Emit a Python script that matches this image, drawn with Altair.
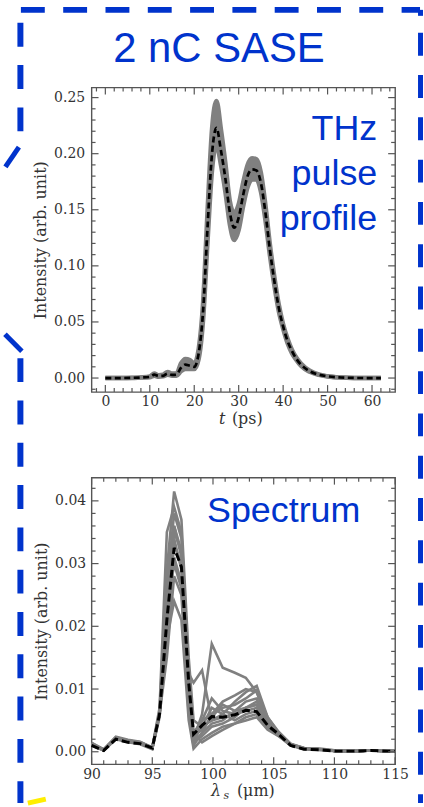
import altair as alt
import pandas as pd

BLUE = "#0033cc"
GRAY = "#808080"
AXC = "#555555"
TXT = "#333333"
SERIF = "DejaVu Serif"
SANS = "Liberation Sans"

# ---------------- top panel: THz pulse profile ----------------
t_ps = [0, 2, 4, 6, 8, 10, 11, 12, 13, 14, 15, 16, 17, 18, 19, 20, 21, 22, 23, 24,
        25, 26, 27, 28, 29, 30, 31, 32, 33, 34, 35, 36, 37, 38, 39, 40, 41, 42, 43, 44,
        46, 48, 50, 53, 56, 59, 62]
mean_top = [0, 0, 0, 0.0002, 0.0005, 0.001, 0.003, 0.0018, 0.002, 0.004, 0.0028, 0.003,
            0.009, 0.012, 0.011, 0.010, 0.022, 0.06, 0.135, 0.2, 0.223, 0.203, 0.178,
            0.148, 0.134, 0.143, 0.163, 0.18, 0.186, 0.185, 0.174, 0.148, 0.115, 0.087,
            0.063, 0.046, 0.033, 0.024, 0.017, 0.012, 0.006, 0.003, 0.0015, 0.0005,
            0.0001, 0, 0]
hi_top = [0, 0, 0, 0.0002, 0.0006, 0.0015, 0.004, 0.0025, 0.003, 0.0055, 0.004, 0.004,
          0.013, 0.017, 0.016, 0.013, 0.026, 0.068, 0.15, 0.222, 0.247, 0.222, 0.192,
          0.158, 0.147, 0.155, 0.174, 0.19, 0.196, 0.195, 0.183, 0.155, 0.12, 0.091,
          0.066, 0.048, 0.035, 0.025, 0.018, 0.013, 0.0065, 0.0032, 0.0016, 0.0005,
          0.0001, 0, 0]
lo_top = [0, 0, 0, 0.0001, 0.0004, 0.0007, 0.002, 0.0012, 0.0015, 0.003, 0.002, 0.002,
          0.006, 0.008, 0.008, 0.008, 0.017, 0.052, 0.122, 0.185, 0.208, 0.19, 0.166,
          0.137, 0.123, 0.132, 0.153, 0.17, 0.177, 0.177, 0.166, 0.141, 0.11, 0.083,
          0.06, 0.044, 0.031, 0.022, 0.016, 0.011, 0.0055, 0.0028, 0.0014, 0.0005,
          0.0001, 0, 0]

# ---------------- bottom panel: spectrum ----------------
lam_um = [90, 91, 92, 93, 94, 95, 95.6, 96.2, 96.8, 97.4, 98.0, 98.4, 99.1, 99.9,
          100.8, 101.8, 102.7, 103.6, 104.5, 105.4, 106.4, 107.5, 108.8, 110.2, 111.6,
          113.0, 114.4, 115]
spec_mean = [0.0010, 0.0002, 0.0020, 0.0015, 0.0013, 0.0006, 0.006, 0.021, 0.0325, 0.0295,
             0.011, 0.0028, 0.0042, 0.0056, 0.0055, 0.0059, 0.0066, 0.0064, 0.0042, 0.0028,
             0.0010, 0.0004, 0.0003, 0.0001, 0.0001, 0.0002, 0.0001, 0.0001]
shot_01 = [0.0013, 0.0003, 0.0023, 0.0018, 0.0015, 0.0006, 0.0065, 0.029, 0.0415, 0.037, 0.015, 0.005, 0.004, 0.005, 0.0055, 0.006, 0.007, 0.0075, 0.0045, 0.0028, 0.0011, 0.0005, 0.0004, 0.0001, 0.0001, 0.0002, 0.0001, 0.0001]
shot_02 = [0.0011, 0.0002, 0.0021, 0.0016, 0.0013, 0.0005, 0.006, 0.025, 0.036, 0.032, 0.010, 0.002, 0.006, 0.0172, 0.0134, 0.0126, 0.0118, 0.0095, 0.0055, 0.0032, 0.0013, 0.0006, 0.0004, 0.0002, 0.0001, 0.0002, 0.0001, 0.0001]
shot_03 = [0.0014, 0.0004, 0.0024, 0.0019, 0.0016, 0.0007, 0.007, 0.035, 0.039, 0.035, 0.0125, 0.011, 0.013, 0.005, 0.006, 0.008, 0.0095, 0.0105, 0.0055, 0.003, 0.0012, 0.0006, 0.0005, 0.0002, 0.0001, 0.0002, 0.0002, 0.0001]
shot_04 = [0.0012, 0.0003, 0.0022, 0.0017, 0.0014, 0.0006, 0.006, 0.022, 0.030, 0.026, 0.008, 0.001, 0.003, 0.006, 0.007, 0.0075, 0.0085, 0.0098, 0.005, 0.0028, 0.0011, 0.0005, 0.0004, 0.0001, 0.0001, 0.0002, 0.0001, 0.0001]
shot_05 = [0.0010, 0.0002, 0.0020, 0.0015, 0.0012, 0.0004, 0.0055, 0.018, 0.024, 0.021, 0.005, 0.0005, 0.002, 0.003, 0.004, 0.0045, 0.005, 0.0055, 0.0035, 0.0025, 0.0010, 0.0004, 0.0003, 0.0001, 0.0001, 0.0002, 0.0001, 0.0001]
shot_06 = [0.0013, 0.0003, 0.0022, 0.0017, 0.0014, 0.0006, 0.006, 0.020, 0.033, 0.030, 0.010, 0.002, 0.004, 0.007, 0.006, 0.005, 0.006, 0.0065, 0.004, 0.0028, 0.0011, 0.0005, 0.0004, 0.0001, 0.0001, 0.0002, 0.0001, 0.0001]
shot_07 = [0.0012, 0.0003, 0.0021, 0.0017, 0.0014, 0.0006, 0.006, 0.024, 0.035, 0.032, 0.009, 0.0015, 0.003, 0.0045, 0.005, 0.0065, 0.008, 0.0085, 0.0045, 0.003, 0.0012, 0.0005, 0.0004, 0.0001, 0.0001, 0.0002, 0.0001, 0.0001]
shot_08 = [0.0011, 0.0002, 0.0022, 0.0016, 0.0013, 0.0005, 0.006, 0.015, 0.028, 0.025, 0.006, 0.001, 0.005, 0.0085, 0.0065, 0.006, 0.0065, 0.007, 0.004, 0.0026, 0.0010, 0.0005, 0.0003, 0.0001, 0.0001, 0.0002, 0.0001, 0.0001]
shot_09 = [0.0014, 0.0003, 0.0023, 0.0018, 0.0015, 0.0007, 0.006, 0.021, 0.036, 0.031, 0.009, 0.003, 0.0015, 0.0025, 0.0035, 0.0045, 0.0055, 0.006, 0.004, 0.0025, 0.0011, 0.0005, 0.0004, 0.0001, 0.0001, 0.0002, 0.0001, 0.0001]
shot_10 = [0.0012, 0.0003, 0.0022, 0.0017, 0.0014, 0.0006, 0.006, 0.019, 0.031, 0.027, 0.007, 0.0025, 0.0035, 0.0055, 0.0075, 0.0065, 0.007, 0.0075, 0.0045, 0.0028, 0.0011, 0.0005, 0.0004, 0.0001, 0.0001, 0.0002, 0.0001, 0.0001]
shot_11 = [0.0013, 0.0003, 0.0021, 0.0016, 0.0014, 0.0006, 0.006, 0.023, 0.034, 0.029, 0.008, 0.0015, 0.0025, 0.004, 0.0045, 0.0055, 0.007, 0.008, 0.005, 0.003, 0.0012, 0.0006, 0.0004, 0.0001, 0.0001, 0.0002, 0.0001, 0.0001]
shot_12 = [0.0012, 0.0003, 0.0022, 0.0017, 0.0015, 0.0006, 0.0065, 0.026, 0.038, 0.034, 0.013, 0.003, 0.005, 0.006, 0.008, 0.009, 0.010, 0.0095, 0.005, 0.003, 0.0012, 0.0005, 0.0004, 0.0001, 0.0001, 0.0002, 0.0001, 0.0001]
shots = [shot_01, shot_02, shot_03, shot_04, shot_05, shot_06,
         shot_07, shot_08, shot_09, shot_10, shot_11, shot_12]

# ---------------- tick values ----------------
top_x_major = [0, 10, 20, 30, 40, 50, 60]
top_x_minor = [-2, 2, 4, 6, 8, 12, 14, 16, 18, 22, 24, 26, 28, 32, 34, 36, 38,
               42, 44, 46, 48, 52, 54, 56, 58, 62, 64]
top_y_major = [0.0, 0.05, 0.10, 0.15, 0.20, 0.25]
top_y_minor = [-0.01, 0.01, 0.02, 0.03, 0.04, 0.06, 0.07, 0.08, 0.09, 0.11, 0.12,
               0.13, 0.14, 0.16, 0.17, 0.18, 0.19, 0.21, 0.22, 0.23, 0.24]
bot_x_major = [90, 95, 100, 105, 110, 115]
bot_x_minor = [91, 92, 93, 94, 96, 97, 98, 99, 101, 102, 103, 104, 106, 107, 108,
               109, 111, 112, 113, 114]
bot_y_major = [0.0, 0.01, 0.02, 0.03, 0.04]
bot_y_minor = [0.002, 0.004, 0.006, 0.008, 0.012, 0.014, 0.016, 0.018, 0.022, 0.024,
               0.026, 0.028, 0.032, 0.034, 0.036, 0.038, 0.042]

W = 305
H_TOP = 306
H_BOT = 288

one = pd.DataFrame({"a": [0]})


def axis_x(values, fmt):
    return alt.Axis(values=values, format=fmt, title=None, ticks=False, tickSize=0,
                    domain=False, grid=False, labelFont=SERIF, labelFontSize=14,
                    labelColor=TXT, labelPadding=3, labelFlush=False)


def axis_y(values, fmt, pad):
    return alt.Axis(values=values, format=fmt, title="Intensity (arb. unit)",
                    ticks=False, tickSize=0, domain=False, grid=False,
                    labelFont=SERIF, labelFontSize=14, labelColor=TXT,
                    labelPadding=pad, titleFont=SERIF, titleFontSize=16,
                    titleFontWeight="normal", titleColor=TXT, titlePadding=5)


def tick_layers(xmaj, xmin, ymaj, ymin, X, Y, h):
    layers = []
    for vals, ln in ((xmaj, 7), (xmin, 4)):
        d = pd.DataFrame({"v": vals})
        layers.append(alt.Chart(d).mark_rule(color=AXC, strokeWidth=1.2).encode(
            x=X("v"), y=alt.value(h), y2=alt.value(h - ln)))
        layers.append(alt.Chart(d).mark_rule(color=AXC, strokeWidth=1.2).encode(
            x=X("v"), y=alt.value(0), y2=alt.value(ln)))
    for vals, ln in ((ymaj, 7), (ymin, 4)):
        d = pd.DataFrame({"v": vals})
        layers.append(alt.Chart(d).mark_rule(color=AXC, strokeWidth=1.2).encode(
            y=Y("v"), x=alt.value(0), x2=alt.value(ln)))
        layers.append(alt.Chart(d).mark_rule(color=AXC, strokeWidth=1.2).encode(
            y=Y("v"), x=alt.value(W), x2=alt.value(W - ln)))
    return layers


# ---------- top panel ----------
xs_top = alt.Scale(domain=[-3.1, 65.2], nice=False, zero=False)
ys_top = alt.Scale(domain=[-0.0125, 0.259], nice=False, zero=False)
ax_tx = axis_x(top_x_major, "d")
ax_ty = axis_y(top_y_major, ".2f", 7)


def XT(f):
    return alt.X(f, type="quantitative", scale=xs_top, axis=ax_tx)


def YT(f):
    return alt.Y(f, type="quantitative", scale=ys_top, axis=ax_ty)


df_top = pd.DataFrame({"t": t_ps, "mean": mean_top, "hi": hi_top, "lo": lo_top})

band = alt.Chart(df_top).mark_area(color=GRAY, interpolate="monotone").encode(
    x=XT("t"), y=YT("lo"), y2="hi")
hi_line = alt.Chart(df_top).mark_line(color=GRAY, strokeWidth=4.5, interpolate="monotone").encode(
    x=XT("t"), y=YT("hi"))
lo_line = alt.Chart(df_top).mark_line(color=GRAY, strokeWidth=4.5, interpolate="monotone").encode(
    x=XT("t"), y=YT("lo"))
mean_line = alt.Chart(df_top).mark_line(color="black", strokeWidth=2.7, strokeDash=[6, 3.5],
                                        interpolate="monotone").encode(x=XT("t"), y=YT("mean"))

# decorations (pixel coordinates relative to the top plot area; origin at page (91, 85))
frame = alt.Chart(one).mark_rect(opacity=0).encode(
    x=alt.value(-91), x2=alt.value(333), y=alt.value(-85), y2=alt.value(722))
bdash = dict(color=BLUE, strokeDash=[24, 18.5])
b_top = alt.Chart(one).mark_rule(strokeWidth=6, **bdash).encode(
    x=alt.value(-71), x2=alt.value(330), y=alt.value(-78))
b_left1 = alt.Chart(one).mark_rule(strokeWidth=6, **bdash).encode(
    x=alt.value(-71.5), y=alt.value(-65), y2=alt.value(45))
b_diag1 = alt.Chart(one).mark_rule(strokeWidth=5, **bdash).encode(
    x=alt.value(-73), x2=alt.value(-88), y=alt.value(60), y2=alt.value(82))
b_diag2 = alt.Chart(one).mark_rule(strokeWidth=5, **bdash).encode(
    x=alt.value(-87), x2=alt.value(-70), y=alt.value(248), y2=alt.value(265))
b_left2 = alt.Chart(one).mark_rule(strokeWidth=6, **bdash).encode(
    x=alt.value(-71.5), y=alt.value(272), y2=alt.value(719))
b_right = alt.Chart(one).mark_rule(strokeWidth=5, color=BLUE, strokeDash=[23, 19.5]).encode(
    x=alt.value(330.5), y=alt.value(-55), y2=alt.value(719))
b_corner = alt.Chart(one).mark_rule(strokeWidth=5, color=BLUE).encode(
    x=alt.value(330.5), y=alt.value(-78), y2=alt.value(-72))
yellow = alt.Chart(one).mark_rule(strokeWidth=5, color="#ffee00").encode(
    x=alt.value(-64), x2=alt.value(-46), y=alt.value(719), y2=alt.value(715))

title_main = alt.Chart(one).mark_text(font=SANS, fontSize=42, color=BLUE, align="center",
                                      baseline="alphabetic").encode(
    x=alt.value(128), y=alt.value(-26), text=alt.value("2 nC SASE"))
title_thz = alt.Chart(one).mark_text(font=SANS, fontSize=36, color=BLUE, align="right",
                                     baseline="alphabetic", lineHeight=45).encode(
    x=alt.value(287), y=alt.value(53), text=alt.value(["THz", "pulse", "profile"]))
xt_t = alt.Chart(one).mark_text(font=SERIF, fontSize=16, fontStyle="italic", color=TXT,
                                align="left", baseline="alphabetic").encode(
    x=alt.value(128), y=alt.value(338), text=alt.value("t"))
xt_ps = alt.Chart(one).mark_text(font=SERIF, fontSize=16, color=TXT,
                                 align="left", baseline="alphabetic").encode(
    x=alt.value(141), y=alt.value(338), text=alt.value("(ps)"))

top = alt.layer(
    frame, band, hi_line, lo_line, mean_line,
    *tick_layers(top_x_major, top_x_minor, top_y_major, top_y_minor, XT, YT, H_TOP),
    b_top, b_left1, b_diag1, b_diag2, b_left2, b_right, b_corner, yellow,
    title_main, title_thz, xt_t, xt_ps,
).properties(width=W, height=H_TOP)

# ---------- bottom panel ----------
xs_bot = alt.Scale(domain=[90, 115], nice=False, zero=False)
ys_bot = alt.Scale(domain=[-0.002, 0.0437], nice=False, zero=False)
ax_bx = axis_x(bot_x_major, "d")
ax_by = axis_y(bot_y_major, ".2f", 6)


def XB(f):
    return alt.X(f, type="quantitative", scale=xs_bot, axis=ax_bx)


def YB(f):
    return alt.Y(f, type="quantitative", scale=ys_bot, axis=ax_by)


rows = []
for k, s in enumerate(shots):
    for lam, v in zip(lam_um, s):
        rows.append({"lam": lam, "val": v, "shot": k})
df_shots = pd.DataFrame(rows)
df_mean = pd.DataFrame({"lam": lam_um, "mean": spec_mean})

shot_lines = alt.Chart(df_shots).mark_line(color=GRAY, strokeWidth=2.6).encode(
    x=XB("lam"), y=YB("val"), detail="shot:N")
spec_mean_line = alt.Chart(df_mean).mark_line(color="black", strokeWidth=3,
                                              strokeDash=[8, 4]).encode(
    x=XB("lam"), y=YB("mean"))

title_spec = alt.Chart(one).mark_text(font=SANS, fontSize=36, color=BLUE, align="left",
                                      baseline="alphabetic").encode(
    x=alt.value(116), y=alt.value(45), text=alt.value("Spectrum"))
xb_l = alt.Chart(one).mark_text(font=SERIF, fontSize=16, fontStyle="italic", color=TXT,
                                align="left", baseline="alphabetic").encode(
    x=alt.value(120), y=alt.value(320), text=alt.value("λ"))
xb_s = alt.Chart(one).mark_text(font=SERIF, fontSize=11, fontStyle="italic", color=TXT,
                                align="left", baseline="alphabetic").encode(
    x=alt.value(132.5), y=alt.value(323), text=alt.value("s"))
xb_u = alt.Chart(one).mark_text(font=SERIF, fontSize=16, color=TXT,
                                align="left", baseline="alphabetic").encode(
    x=alt.value(146), y=alt.value(320), text=alt.value("(μm)"))

bot = alt.layer(
    shot_lines, spec_mean_line,
    *tick_layers(bot_x_major, bot_x_minor, bot_y_major, bot_y_minor, XB, YB, H_BOT),
    title_spec, xb_l, xb_s, xb_u,
).properties(width=W, height=H_BOT)

chart = alt.vconcat(top, bot, spacing=86, bounds="flush").properties(
    padding=0
).configure_view(stroke=AXC, strokeWidth=1.4)

chart.save("out.html", embed_options={"renderer": "svg", "actions": False})
